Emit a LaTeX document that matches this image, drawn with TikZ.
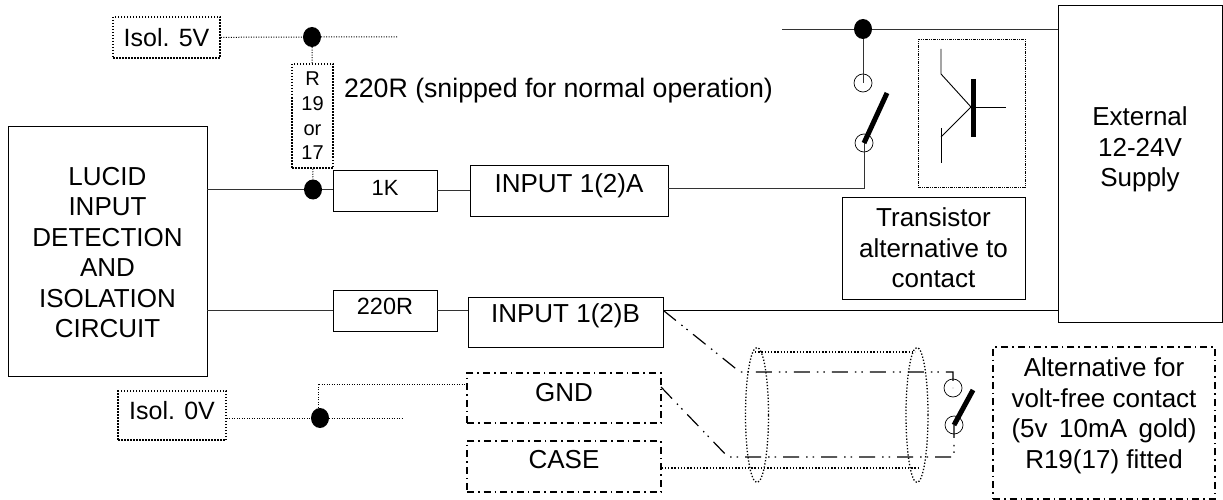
\documentclass[tikz,border=0pt]{standalone}
\usepackage{fontspec}
\setmainfont{Liberation Sans}
\usetikzlibrary{shapes.geometric}
\tikzset{
	every node/.style={font=\fontsize{26}{30.5}\selectfont, align=center, inner sep=0pt},
	solidbox/.style={draw, line width=.9pt},
	dotbox/.style={draw, line width=1.5pt, dash pattern=on 1.5pt off 1.5pt},
	dashbox/.style={draw, line width=1.3pt, dash pattern=on 7pt off 4pt on 1.6pt off 4pt},
	framebox/.style={draw, line width=.8pt, dash pattern=on 3pt off 1pt on 1pt off 1pt on 1pt off 1pt},
	wire/.style={line width=.9pt, black!80},
	dotwire/.style={line width=1pt, dash pattern=on 1pt off 1.5pt},
	shield/.style={line width=1.3pt, dash pattern=on 1.3pt off 1.9pt},
	signal/.style={line width=1.2pt, dash pattern=on 16pt off 7pt on 1.5pt off 5pt on 1.5pt off 7pt},
	junction/.style={fill=black, ellipse, minimum width=18pt, minimum height=20pt},
	pin/.style={draw, circle, line width=.7pt, minimum size=18pt},
	blade/.style={line width=5pt},
}
\begin{document}
\begin{tikzpicture}[x=1pt,y=-1pt]
	\useasboundingbox (0,0) rectangle (1223,500);
	% boxes
	\node[solidbox, minimum width=199pt, minimum height=250pt] (lucid) at (107.5,251) {};
	\node (lucidtext) at (107.5,252.5) {LUCID\\INPUT\\DETECTION\\AND\\ISOLATION\\CIRCUIT};
	\node[solidbox, minimum width=104pt, minimum height=41pt, font=\fontsize{22}{26}\selectfont, text depth=5pt] (res1k) at (385,190.5) {1K};
	\node[solidbox, minimum width=198pt, minimum height=51pt, text depth=14pt] (inputa) at (569,190.5) {INPUT 1(2)A};
	\node[solidbox, minimum width=104pt, minimum height=41pt, font=\fontsize{23.5}{26}\selectfont, text depth=9pt] (res220) at (385,310.5) {220R};
	\node[solidbox, minimum width=195pt, minimum height=50pt, text depth=18pt] (inputb) at (565.5,322) {INPUT 1(2)B};
	\node[solidbox, minimum width=183pt, minimum height=102pt] (transbox) at (933.5,248) {Transistor\\alternative to\\contact};
	\node[solidbox, minimum width=164pt, minimum height=317pt] (supply) at (1140,163.5) {};
	\node (supplytext) at (1140,149.5) {External\\12-24V\\Supply};
	\node[dotbox, minimum width=107pt, minimum height=41pt, font=\fontsize{25}{30}\selectfont] (iso5) at (166.5,37.5) {Isol. 5V};
	\node[dotbox, minimum width=41pt, minimum height=104pt, font=\fontsize{20}{24.6}\selectfont] (r19) at (312.5,116) {R\\19\\or\\17};
	\node[dotbox, minimum width=108pt, minimum height=49pt, font=\fontsize{25}{30}\selectfont, text depth=11pt] (iso0) at (172,415.5) {Isol. 0V};
	\node[dashbox, minimum width=194pt, minimum height=50pt, text depth=11pt] (gnd) at (564,398) {GND};
	\node[dashbox, minimum width=194pt, minimum height=51pt, text depth=14pt] (case) at (564,466.5) {CASE};
	\node[framebox, minimum width=107pt, minimum height=148pt] (tranframe) at (971.5,113) {};
	\node[dashbox, minimum width=222pt, minimum height=152pt] (altbox) at (1104,423) {};
	\node (alttext) at (1104,416) {Alternative for\\volt-free contact\\(5v\, 10mA\, gold)\\R19(17) fitted};
	\node[font=\fontsize{26.7}{30.5}\selectfont] (note) at (558.5,91) {220R (snipped for normal operation)};
	% junctions and pins
	\node[junction] (j5) at (312,37) {};
	\node[junction] (jin) at (313,189.5) {};
	\node[junction] (j0) at (320,418) {};
	\node[junction] (jsup) at (863,29) {};
	\node[pin] (pina) at (863,83) {};
	\node[pin] (pinb) at (864,143) {};
	\node[pin] (pinc) at (953,388) {};
	\node[pin] (pind) at (954,425) {};
	% free ends
	\coordinate (end5) at (398,37);
	\coordinate (end0) at (403,418);
	\coordinate (start12) at (782,29);
	\coordinate (corner) at (864,188);
	\coordinate (bladea) at (887,93);
	\coordinate (bladec) at (973,390);
	\coordinate (shieldtop) at (755,352);
	\coordinate (shieldend) at (915,352);
	\coordinate (caseend) at (918,468);
	\coordinate (bendb) at (740,372);
	\coordinate (bendg) at (728,457);
	\coordinate (gndtap) at (661,387);
	% wiring
	\draw[wire] (lucid.east |- jin) -- (jin) -- (res1k.west |- jin);
	\draw[wire] (res1k.east |- inputa) -- (inputa.west);
	\draw[wire] (inputa.east |- corner) -- (corner) -- (pinb.center);
	\draw[wire, line width=1.4pt] (lucid.east |- res220) -- (res220.west);
	\draw[wire] (res220.east) -- (inputb.west |- res220);
	\draw[wire, black] (inputb.east |- res220) -- (supply.west |- res220);
	\draw[wire] (start12) -- (jsup) -- (supply.west |- jsup);
	\draw[wire] (jsup) -- (pina.center);
	\draw[dotwire] (iso5) -- (j5) -- (end5);
	\draw[dotwire] (j5) -- (r19);
	\draw[dotwire] (r19) -- (jin);
	\draw[dotwire] (iso0.east |- j0) -- (j0) -- (end0);
	\draw[dotwire] (j0.north -| 318,0) |- (gnd.west |- 0,384);
	\draw[blade] (pinb.center) -- (bladea);
	\draw[blade] (pind.center) -- (bladec);
	% transistor
	\coordinate (base) at (971,107);
	\draw[line width=.9pt] (941,49) -- (941,74) -- (base) -- (941,137);
	\draw[line width=.9pt] (941,128) -- (941,163);
	\draw[line width=.9pt] (base) -- (1006,107);
	\draw[line width=5pt] (973,79) -- (973,137);
	% cable
	\node[draw, shield, ellipse, minimum width=23pt, minimum height=135pt] (screena) at (757,415) {};
	\node[draw, shield, ellipse, minimum width=22pt, minimum height=135pt] (screenb) at (917,415) {};
	\draw[shield] (shieldtop) -- (shieldend);
	\draw[shield] (case.east |- caseend) -- (caseend);
	\draw[signal] (inputb.east |- res220) -- (bendb) -- (pinc.center |- bendb) -- (pinc.center);
	\draw[signal] (gndtap) -- (bendg) -- (pind.center |- bendg) -- (pind.center);
\end{tikzpicture}
\end{document}
